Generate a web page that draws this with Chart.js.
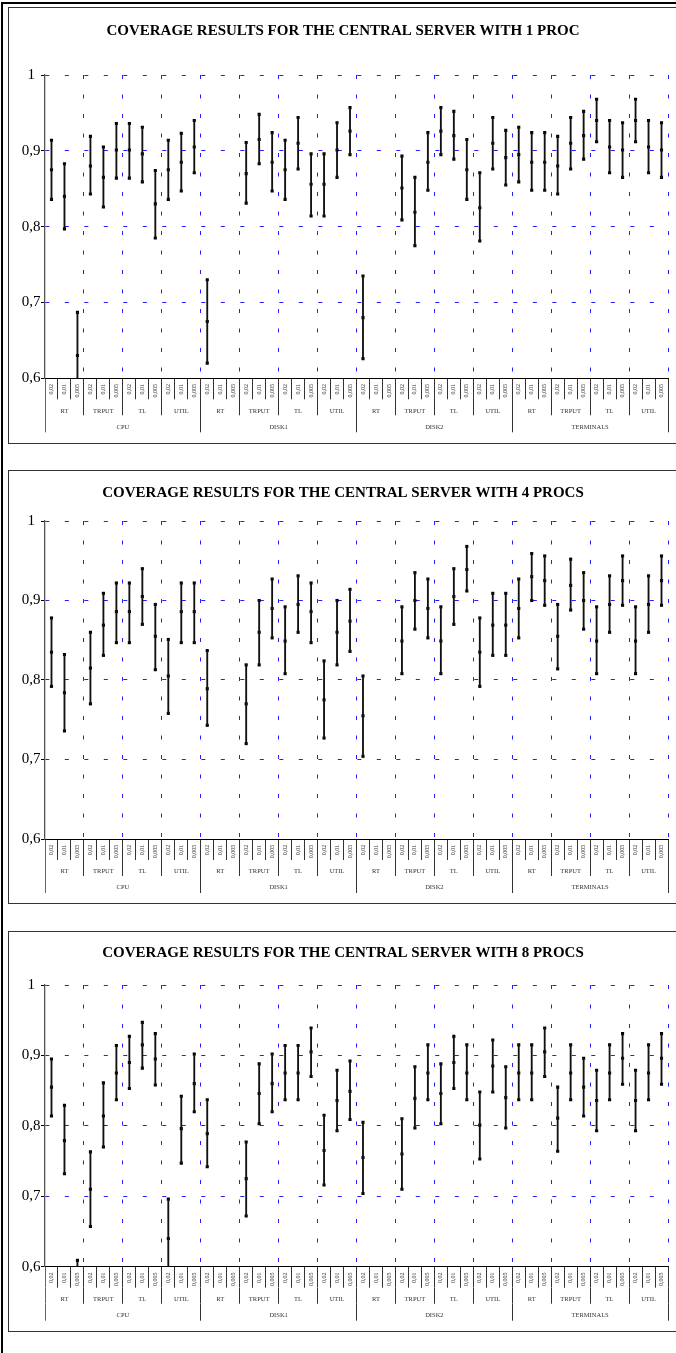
<!DOCTYPE html>
<html>
<head>
<meta charset="utf-8">
<script src="https://cdn.jsdelivr.net/npm/chart.js@4.4.1/dist/chart.umd.min.js"></script>
<style>
  html, body { margin: 0; padding: 0; background: #fff; overflow: hidden; }
  body { width: 676px; height: 1353px; position: relative; }
  .frame { position: absolute; left: 1px; top: 2px; width: 720px; height: 1400px;
           border-left: 2.5px solid #000; border-top: 2.5px solid #000; }
  .panel { position: absolute; left: 8px; width: 720px; box-sizing: border-box; border: 1.5px solid #333; }
  canvas { position: absolute; left: 8px; }
</style>
</head>
<body>
<div class="frame"></div>
<script>
// category levels
const levels = ["0,02", "0,01", "0,005"];
const metrics = ["RT", "TRPUT", "TL", "UTIL"];
const resources = ["CPU", "DISK1", "DISK2", "TERMINALS"];

// 1 PROC: interval low / point estimate / high, order CPU RT 0,02 ... TERMINALS UTIL 0,005
const low1 = [
  0.836, 0.797, 0.573,  0.843, 0.826, 0.864,  0.864, 0.859, 0.785,  0.836, 0.847, 0.871,
  0.620, null, null,    0.831, 0.883, 0.847,  0.836, 0.876, 0.814,  0.814, 0.865, 0.895,
  0.626, null, null,    0.809, 0.775, 0.848,  0.895, 0.889, 0.836,  0.781, 0.876, 0.855,
  0.859, 0.848, 0.848,  0.843, 0.876, 0.889,  0.912, 0.871, 0.865,  0.912, 0.871, 0.865
];
const mid1 = [
  0.875, 0.840, 0.630,  0.880, 0.865, 0.901,  0.901, 0.896, 0.830,  0.875, 0.885, 0.905,
  0.675, null, null,    0.870, 0.915, 0.885,  0.875, 0.910, 0.856,  0.856, 0.901, 0.926,
  0.680, null, null,    0.851, 0.819, 0.885,  0.926, 0.920, 0.875,  0.825, 0.910, 0.891,
  0.895, 0.885, 0.885,  0.880, 0.910, 0.920,  0.940, 0.905, 0.901,  0.940, 0.905, 0.901
];
const high1 = [
  0.914, 0.883, 0.687,  0.919, 0.905, 0.936,  0.936, 0.931, 0.874,  0.914, 0.923, 0.940,
  0.730, null, null,    0.911, 0.948, 0.924,  0.914, 0.944, 0.896,  0.896, 0.937, 0.957,
  0.735, null, null,    0.893, 0.865, 0.924,  0.957, 0.952, 0.915,  0.871, 0.944, 0.927,
  0.931, 0.924, 0.924,  0.919, 0.944, 0.952,  0.968, 0.940, 0.937,  0.968, 0.940, 0.937
];

// 4 PROCS
const low4 = [
  0.792, 0.736, null,   0.770, 0.831, 0.847,  0.847, 0.870, 0.813,  0.758, 0.847, 0.847,
  0.743, null, null,    0.720, 0.819, 0.853,  0.808, 0.860, 0.847,  0.727, 0.819, 0.836,
  0.704, null, null,    0.808, 0.864, 0.853,  0.808, 0.870, 0.912,  0.792, 0.831, 0.831,
  0.853, 0.900, 0.894,  0.814, 0.888, 0.864,  0.808, 0.860, 0.894,  0.808, 0.860, 0.894
];
const mid4 = [
  0.835, 0.784, null,   0.815, 0.869, 0.886,  0.886, 0.905, 0.855,  0.805, 0.886, 0.886,
  0.789, null, null,    0.770, 0.860, 0.890,  0.849, 0.895, 0.886,  0.775, 0.860, 0.874,
  0.755, null, null,    0.849, 0.900, 0.890,  0.849, 0.905, 0.939,  0.835, 0.869, 0.869,
  0.890, 0.930, 0.925,  0.855, 0.919, 0.900,  0.849, 0.895, 0.925,  0.849, 0.895, 0.925
];
const high4 = [
  0.878, 0.832, null,   0.860, 0.909, 0.922,  0.922, 0.940, 0.895,  0.851, 0.922, 0.922,
  0.837, null, null,    0.819, 0.900, 0.927,  0.892, 0.931, 0.922,  0.824, 0.900, 0.914,
  0.805, null, null,    0.892, 0.935, 0.927,  0.892, 0.940, 0.968,  0.878, 0.909, 0.909,
  0.927, 0.959, 0.956,  0.895, 0.952, 0.935,  0.892, 0.931, 0.956,  0.892, 0.931, 0.956
];

// 8 PROCS
const low8 = [
  0.814, 0.732, 0.511,  0.657, 0.770, 0.837,  0.853, 0.882, 0.858,  0.584, 0.747, 0.820,
  0.742, null, null,    0.672, 0.803, 0.820,  0.837, 0.837, 0.870,  0.716, 0.793, 0.809,
  0.704, null, null,    0.710, 0.797, 0.837,  0.803, 0.853, 0.837,  0.753, 0.848, 0.797,
  0.837, 0.837, 0.870,  0.764, 0.837, 0.814,  0.793, 0.837, 0.859,  0.793, 0.837, 0.859
];
const mid8 = [
  0.855, 0.779, 0.560,  0.710, 0.814, 0.875,  0.890, 0.915, 0.895,  0.640, 0.796, 0.860,
  0.789, null, null,    0.725, 0.846, 0.860,  0.875, 0.875, 0.905,  0.765, 0.836, 0.849,
  0.755, null, null,    0.760, 0.839, 0.875,  0.846, 0.890, 0.875,  0.801, 0.885, 0.840,
  0.875, 0.875, 0.905,  0.811, 0.875, 0.855,  0.836, 0.875, 0.896,  0.836, 0.875, 0.896
];
const high8 = [
  0.895, 0.829, 0.609,  0.763, 0.861, 0.914,  0.927, 0.947, 0.931,  0.696, 0.842, 0.902,
  0.837, null, null,    0.777, 0.888, 0.902,  0.914, 0.914, 0.939,  0.815, 0.879, 0.892,
  0.805, null, null,    0.810, 0.884, 0.915,  0.888, 0.927, 0.915,  0.848, 0.922, 0.884,
  0.915, 0.915, 0.939,  0.855, 0.915, 0.896,  0.879, 0.915, 0.931,  0.879, 0.915, 0.931
];

const levelLabels = resources.flatMap(() => metrics.flatMap(() => levels));
const metricLabels = resources.flatMap(() => metrics);

const SERIF = "'Liberation Serif', 'Times New Roman', serif";
const BLUE = "#1f1fff";
const DASH = [4, 15.5];

// panel boxes on the page (top, height) and title/bottom spacing
const panels = [
  { title: "COVERAGE RESULTS FOR THE CENTRAL SERVER WITH 1 PROC", low: low1, mid: mid1, high: high1,
    top: 7, height: 437, titlePad: { top: 15, bottom: 35 }, padBottom: 11.7 },
  { title: "COVERAGE RESULTS FOR THE CENTRAL SERVER WITH 4 PROCS", low: low4, mid: mid4, high: high4,
    top: 470, height: 434, titlePad: { top: 14, bottom: 19 }, padBottom: 11 },
  { title: "COVERAGE RESULTS FOR THE CENTRAL SERVER WITH 8 PROCS", low: low8, mid: mid8, high: high8,
    top: 931, height: 401, titlePad: { top: 13, bottom: 23 }, padBottom: 11.3 }
];

const fmtY = v => Math.abs(v - 1) < 1e-9 ? "1" : v.toFixed(1).replace(".", ",");

function markerSet(data) {
  return {
    type: "line", data, showLine: false, clip: 0,
    pointStyle: "rect", pointRadius: 2.2, pointBorderWidth: 0,
    pointBackgroundColor: "#000", pointBorderColor: "#000"
  };
}

function drawPanel(p) {
  const box = document.createElement("div");
  box.className = "panel";
  box.style.top = p.top + "px";
  box.style.height = p.height + "px";

  const canvas = document.createElement("canvas");
  canvas.width = 668;
  canvas.height = p.height;
  canvas.style.top = p.top + "px";
  document.body.appendChild(canvas);
  document.body.appendChild(box);

  const bars = p.low.map((l, i) => (l == null ? null : [l, p.high[i]]));

  new Chart(canvas.getContext("2d"), {
    type: "bar",
    data: {
      labels: levelLabels,
      datasets: [
        { type: "bar", data: bars, backgroundColor: "#111", barThickness: 1.2, clip: 0 },
        markerSet(p.high),
        markerSet(p.mid),
        markerSet(p.low)
      ]
    },
    options: {
      responsive: false,
      animation: false,
      events: [],
      layout: { padding: { left: 10, right: 8, top: 0, bottom: p.padBottom } },
      plugins: {
        legend: { display: false },
        tooltip: { enabled: false },
        title: {
          display: true, text: p.title, color: "#000",
          font: { family: SERIF, size: 15, weight: "bold" },
          padding: p.titlePad
        }
      },
      scales: {
        x: {
          type: "category", position: "bottom", offset: true, weight: 0,
          grid: {
            offset: true, drawOnChartArea: true, drawTicks: true, tickLength: 21, lineWidth: 1,
            color: c => c.type === "tick" ? (c.index > 0 && c.index % 3 === 0 ? BLUE : "transparent") : BLUE,
            tickColor: c => c.type === "tick" && c.index === 0 ? "#666" : "#333"
          },
          border: { display: true, color: "#000", width: 1, dash: DASH },
          ticks: {
            autoSkip: false, minRotation: 90, maxRotation: 90, padding: -15.3,
            color: "#333", font: { family: SERIF, size: 6 }
          },
          afterFit: s => { s.height = 21; }
        },
        x2: {
          type: "category", labels: metricLabels, position: "bottom", offset: true, weight: 1,
          grid: { offset: true, drawOnChartArea: false, tickLength: 16, color: "#333",
                  tickColor: c => c.type === "tick" && c.index === 0 ? "#666" : "#333" },
          border: { display: false },
          ticks: { autoSkip: false, maxRotation: 0, minRotation: 0, padding: -8.2,
                   color: "#333", font: { family: SERIF, size: 6.5 } },
          afterFit: s => { s.height = 16; }
        },
        x3: {
          type: "category", labels: resources, position: "bottom", offset: true, weight: 2,
          grid: { offset: true, drawOnChartArea: false, tickLength: 17, color: "#333",
                  tickColor: c => c.type === "tick" && c.index === 0 ? "#666" : "#333" },
          border: { display: false },
          ticks: { autoSkip: false, maxRotation: 0, minRotation: 0, padding: -9.2,
                   color: "#333", font: { family: SERIF, size: 6.5 } },
          afterFit: s => { s.height = 17; }
        },
        y: {
          min: 0.6, max: 1,
          grid: {
            drawTicks: true, tickLength: 4, lineWidth: 1,
            color: c => c.tick && c.tick.value > 0.65 ? BLUE : "transparent",
            tickColor: "#000"
          },
          border: { display: true, color: "#555", width: 1.3, dash: DASH },
          ticks: { stepSize: 0.1, padding: 0.5, crossAlign: "center", color: "#000",
                   font: { family: SERIF, size: 15 }, callback: fmtY },
          afterFit: s => { s.width = 27; }
        }
      }
    }
  });
}

panels.forEach(drawPanel);
</script>
</body>
</html>
